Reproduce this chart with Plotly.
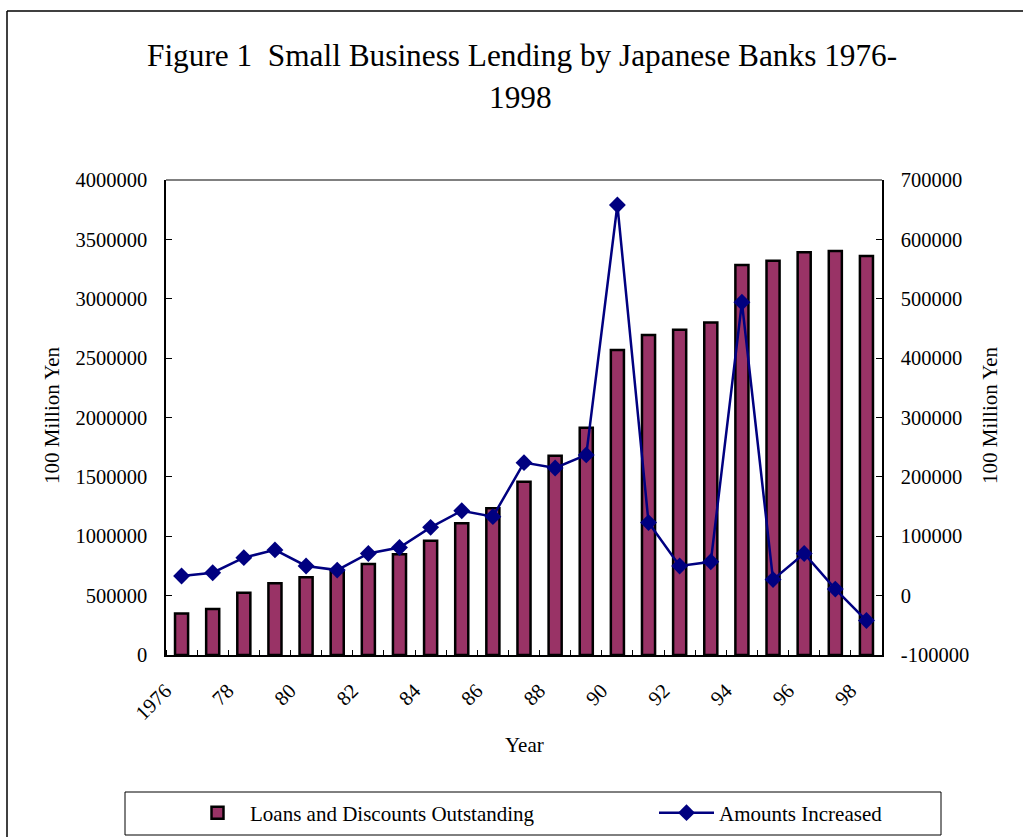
import plotly.graph_objects as go

# ---------------- data ----------------
years = list(range(1976, 1999))
loans_outstanding = [350000, 387000, 525000, 604000, 654000, 700000, 766000, 848000,
                     963000, 1109000, 1235000, 1459000, 1678000, 1914000, 2568000,
                     2695000, 2740000, 2800000, 3284000, 3320000, 3391000, 3402000, 3360000]
amounts_increased = [33000, 38600, 64000, 77000, 50000, 43000, 71000, 81000, 115000,
                     143000, 133000, 224000, 215000, 237000, 658000, 123000, 50000,
                     57000, 494000, 27000, 71000, 11000, -42000]
tick_years = years[::2]
tick_labels = ["1976", "78", "80", "82", "84", "86", "88", "90", "92", "94", "96", "98"]
left_ticks = list(range(0, 4000001, 500000))
right_ticks = list(range(-100000, 700001, 100000))

# ---------------- layout helpers ----------------
W, H = 1023, 837
L, R, T, B = 166, 882, 180, 655
FONT = "Liberation Serif"


def px(x):
    return (x - L) / (R - L)


def py(y):
    return (B - y) / (B - T)


fig = go.Figure()
fig.add_trace(go.Bar(
    x=years, y=loans_outstanding, name="Loans and Discounts Outstanding",
    width=0.42, marker=dict(color="#993366", line=dict(color="black", width=2.5)),
    yaxis="y", legend="legend"))
fig.add_trace(go.Scatter(
    x=years, y=amounts_increased, name="Amounts Increased", mode="lines+markers",
    line=dict(color="#000080", width=2.5),
    marker=dict(symbol="diamond", size=13, color="#000080"),
    yaxis="y2", legend="legend2"))

legend_common = dict(orientation="h", xref="container", yref="container",
                     xanchor="left", yanchor="middle",
                     font=dict(family=FONT, size=21, color="black"),
                     bgcolor="rgba(0,0,0,0)", borderwidth=0, itemwidth=55)

fig.update_layout(
    width=W, height=H,
    margin=dict(l=L, r=W - R, t=T, b=H - B, pad=0, autoexpand=False),
    paper_bgcolor="white", plot_bgcolor="white",
    font=dict(family=FONT, size=20, color="black"),
    showlegend=True,
    legend=dict(x=(250 - 65) / W, y=1 - 813 / H, **legend_common),
    legend2=dict(x=(719 - 65) / W, y=1 - 813 / H, **legend_common),
    xaxis=dict(range=[years[0] - 0.5, years[-1] + 0.5], automargin=False,
               tickmode="array", tickvals=tick_years, ticktext=tick_labels,
               tickangle=-45, ticks="", showgrid=False, zeroline=False,
               showline=True, linecolor="black", linewidth=1.5,
               ticklabelstandoff=14, ticklabelshift=-16,
               tickfont=dict(family=FONT, size=20.5),
               minor=dict(tickmode="array",
                          tickvals=[y - 0.5 for y in years] + [years[-1] + 0.5],
                          ticks="inside", ticklen=5, tickcolor="black", tickwidth=1,
                          showgrid=False)),
    yaxis=dict(range=[0, 4000000], tickmode="array", tickvals=left_ticks,
               ticktext=[str(v) for v in left_ticks], automargin=False,
               ticks="inside", ticklen=6, tickcolor="black", tickwidth=1,
               showgrid=False, zeroline=False, showline=True, linecolor="black",
               linewidth=1.5, ticklabelstandoff=13,
               tickfont=dict(family=FONT, size=20.5)),
    yaxis2=dict(range=[-100000, 700000], overlaying="y", side="right",
                tickmode="array", tickvals=right_ticks, automargin=False,
                ticktext=[str(v) for v in right_ticks],
                ticks="inside", ticklen=6, tickcolor="black", tickwidth=1,
                showgrid=False, zeroline=False, showline=True, linecolor="black",
                linewidth=1.5, ticklabelstandoff=13,
                tickfont=dict(family=FONT, size=20.5)),
)

# Title and axis titles
fig.add_annotation(text="Figure 1  Small Business Lending by Japanese Banks 1976-",
                   x=px(522), y=py(55), xref="paper", yref="paper", showarrow=False,
                   xanchor="center", yanchor="middle", font=dict(family=FONT, size=31.3))
fig.add_annotation(text="1998",
                   x=px(520), y=py(97), xref="paper", yref="paper", showarrow=False,
                   xanchor="center", yanchor="middle", font=dict(family=FONT, size=31.3))
fig.add_annotation(text="100 Million Yen", textangle=-90,
                   x=px(52), y=py(415), xref="paper", yref="paper", showarrow=False,
                   xanchor="center", yanchor="middle", font=dict(family=FONT, size=21))
fig.add_annotation(text="100 Million Yen", textangle=-90,
                   x=px(990), y=py(415), xref="paper", yref="paper", showarrow=False,
                   xanchor="center", yanchor="middle", font=dict(family=FONT, size=21))
fig.add_annotation(text="Year",
                   x=px(524), y=py(745), xref="paper", yref="paper", showarrow=False,
                   xanchor="center", yanchor="middle", font=dict(family=FONT, size=21))

# Frames
shapes = [
    # outer chart frame (left and top edges visible)
    dict(type="line", xref="paper", yref="paper", x0=px(7), x1=px(W + 20),
         y0=py(11), y1=py(11), line=dict(color="black", width=1.5)),
    dict(type="line", xref="paper", yref="paper", x0=px(7), x1=px(7),
         y0=py(11), y1=py(H + 20), line=dict(color="black", width=1.5)),
    # grey top border of plot area
    dict(type="line", xref="paper", yref="paper", x0=0, x1=1, y0=1, y1=1,
         line=dict(color="#808080", width=2)),
    # legend box
    dict(type="rect", xref="paper", yref="paper", x0=px(125), x1=px(941),
         y0=py(792), y1=py(835), line=dict(color="black", width=1)),
]
fig.update_layout(shapes=shapes)

fig.write_html("out.html")
